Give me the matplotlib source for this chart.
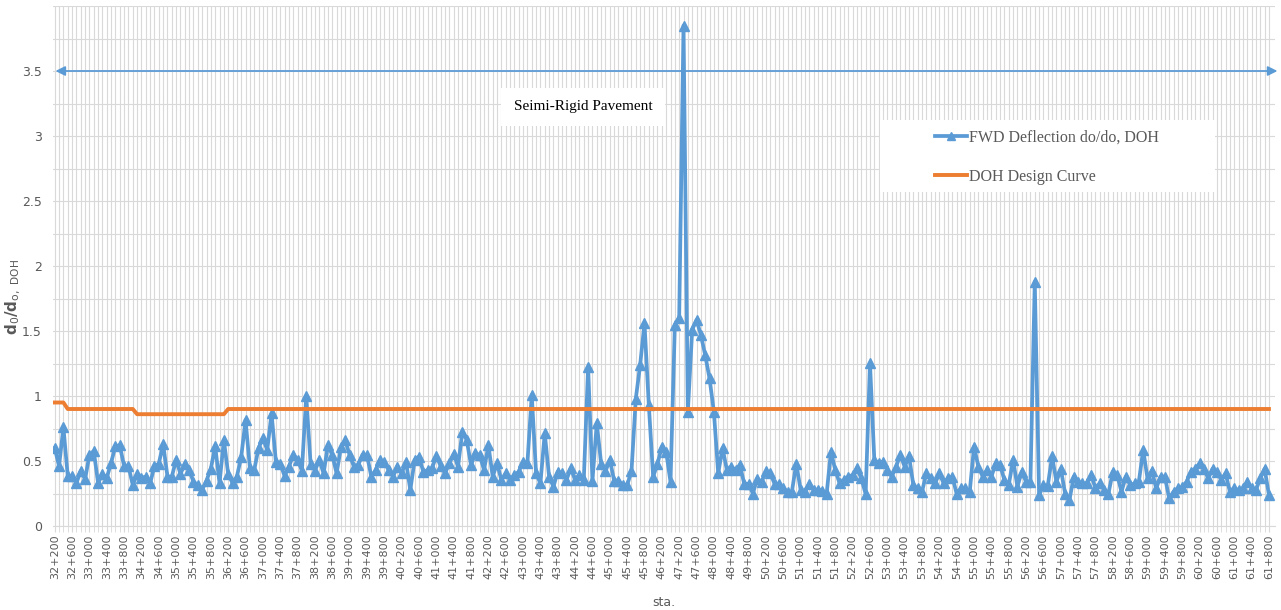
import numpy as np
import matplotlib
matplotlib.use('Agg')
import matplotlib.pyplot as plt
from matplotlib.patches import Rectangle

# FWD deflection ratio, one value per station category
fwd = [
    0.60, 0.46, 0.76, 0.385, 0.385, 0.33, 0.425, 0.36, 0.546, 0.577,
    0.33, 0.40, 0.37, 0.487, 0.615, 0.62, 0.46, 0.46, 0.315, 0.40,
    0.37, 0.38, 0.33, 0.46, 0.48, 0.63, 0.38, 0.38, 0.51, 0.40,
    0.48, 0.43, 0.34, 0.315, 0.28, 0.35, 0.44, 0.615, 0.33, 0.66,
    0.40, 0.33, 0.38, 0.53, 0.815, 0.45, 0.43, 0.60, 0.675, 0.585,
    0.866, 0.495, 0.48, 0.385, 0.456, 0.546, 0.51, 0.425, 1.00, 0.48,
    0.425, 0.51, 0.405, 0.623, 0.546, 0.405, 0.605, 0.66, 0.546, 0.456,
    0.47, 0.55, 0.546, 0.38, 0.43, 0.508, 0.495, 0.43, 0.38, 0.456,
    0.405, 0.495, 0.277, 0.508, 0.533, 0.418, 0.43, 0.444, 0.54, 0.46,
    0.405, 0.482, 0.554, 0.456, 0.726, 0.662, 0.469, 0.56, 0.546, 0.43,
    0.623, 0.38, 0.482, 0.354, 0.405, 0.354, 0.392, 0.418, 0.495, 0.482,
    1.008, 0.405, 0.328, 0.713, 0.38, 0.303, 0.418, 0.405, 0.354, 0.444,
    0.354, 0.392, 0.354, 1.22, 0.35, 0.79, 0.48, 0.42, 0.51, 0.35,
    0.35, 0.315, 0.315, 0.42, 0.98, 1.24, 1.56, 0.93, 0.38, 0.48,
    0.61, 0.57, 0.34, 1.546, 1.60, 3.85, 0.88, 1.51, 1.585, 1.47,
    1.315, 1.135, 0.88, 0.405, 0.60, 0.43, 0.456, 0.43, 0.47, 0.325,
    0.325, 0.25, 0.365, 0.34, 0.42, 0.405, 0.325, 0.325, 0.29, 0.265,
    0.265, 0.48, 0.28, 0.265, 0.325, 0.28, 0.28, 0.27, 0.246, 0.572,
    0.43, 0.328, 0.354, 0.38, 0.392, 0.444, 0.367, 0.246, 1.251, 0.51,
    0.482, 0.495, 0.43, 0.38, 0.456, 0.546, 0.456, 0.538, 0.315, 0.29,
    0.264, 0.405, 0.367, 0.328, 0.405, 0.328, 0.367, 0.38, 0.246, 0.29,
    0.29, 0.264, 0.61, 0.456, 0.38, 0.43, 0.38, 0.482, 0.469, 0.354,
    0.315, 0.51, 0.303, 0.418, 0.341, 0.341, 1.88, 0.236, 0.315, 0.31,
    0.535, 0.34, 0.44, 0.25, 0.20, 0.38, 0.34, 0.328, 0.328, 0.392,
    0.29, 0.328, 0.277, 0.25, 0.418, 0.392, 0.264, 0.38, 0.315, 0.328,
    0.34, 0.585, 0.366, 0.426, 0.29, 0.38, 0.38, 0.212, 0.264, 0.29,
    0.302, 0.34, 0.418, 0.44, 0.482, 0.44, 0.366, 0.44, 0.418, 0.354,
    0.405, 0.264, 0.29, 0.277, 0.29, 0.34, 0.29, 0.277, 0.366, 0.44,
    0.24,
]

# DOH design curve (step values)
design = [0.95] * 3 + [0.90] * 16 + [0.86] * 21 + [0.90] * 241

# every 4th category is labelled on the axis
station_labels = [
    '32+200', '32+600', '33+000', '33+400', '33+800', '34+200', '34+600',
    '35+000', '35+400', '35+800', '36+200', '36+600', '37+000', '37+400',
    '37+800', '38+200', '38+600', '39+000', '39+400', '39+800', '40+200',
    '40+600', '41+000', '41+400', '41+800', '42+200', '42+600', '43+000',
    '43+400', '43+800', '44+200', '44+600', '45+000', '45+400', '45+800',
    '46+200', '47+200', '47+600', '48+000', '48+400', '49+800', '50+200',
    '50+600', '51+000', '51+400', '51+800', '52+200', '52+600', '53+000',
    '53+400', '53+800', '54+200', '54+600', '55+000', '55+400', '55+800',
    '56+200', '56+600', '57+000', '57+400', '57+800', '58+200', '58+600',
    '59+000', '59+400', '59+800', '60+200', '60+600', '61+000', '61+400',
    '61+800',
]
y_ticks = [0, 0.5, 1, 1.5, 2, 2.5, 3, 3.5]
y_tick_labels = ['0', '0.5', '1', '1.5', '2', '2.5', '3', '3.5']

grey = '#595959'
grid = '#D9D9D9'
blue = '#5B9BD5'
orange = '#ED7D31'

x = np.arange(len(fwd))

fig = plt.figure(figsize=(12.81, 6.10), dpi=100)
ax = fig.add_axes([53 / 1281, 84 / 610, 1222 / 1281, 520 / 610])

ax.plot(x, fwd, color=blue, lw=2.7, marker='^', ms=7.5, zorder=3,
        label='FWD Deflection do/do, DOH')
ax.plot(x, design, color=orange, lw=2.8, zorder=4, label='DOH Design Curve')

ax.set_xlim(-0.4, len(fwd) - 1 + 1.4)
ax.set_ylim(0, 4)

ax.set_xticks(x[::4])
ax.set_xticklabels(station_labels)
ax.set_xticks(x, minor=True)
ax.set_yticks(y_ticks)
ax.set_yticklabels(y_tick_labels)
ax.set_yticks(np.arange(0, 4.01, 0.25), minor=True)

ax.grid(which='both', color=grid, lw=0.8)
ax.set_axisbelow(True)

for s in ax.spines.values():
    s.set_visible(False)
ax.spines['bottom'].set_visible(True)
ax.spines['bottom'].set_color(grid)

ax.tick_params(axis='x', which='both', length=4, color=grid)
ax.tick_params(axis='x', which='major', labelsize=8, labelcolor=grey,
               labelrotation=90, pad=2)
ax.tick_params(axis='y', which='both', length=0, labelsize=9,
               labelcolor=grey, pad=8)

ax.set_xlabel('sta.', fontsize=9, color=grey, labelpad=12)

# y label placed by hand so it stays inside the figure
fig.text(13 / 1281, 1 - 297 / 610, r'd$_0$/d$_{\mathrm{o,\ DOH}}$',
         rotation=90, ha='center', va='center', fontsize=11,
         fontweight='bold', color=grey)

# double-headed arrow across the chart
ax.annotate('', xy=(1.002, 3.5), xytext=(0.002, 3.5),
            xycoords=('axes fraction', 'data'),
            arrowprops=dict(arrowstyle='<|-|>', color=blue, lw=1.3,
                            mutation_scale=14, shrinkA=0, shrinkB=0),
            annotation_clip=False, zorder=5)

ax.text(0.4337, 0.806, 'Seimi-Rigid Pavement', transform=ax.transAxes,
        ha='center', va='center', fontsize=11, family='Liberation Serif',
        color='black', zorder=6,
        bbox=dict(boxstyle='square,pad=0.8', fc='white', ec='none'))

# legend sits on a white panel
ax.add_patch(Rectangle((0.677, 0.642), 0.274, 0.139, transform=ax.transAxes,
                       fc='white', ec='none', zorder=6))
leg = ax.legend(loc='upper left', bbox_to_anchor=(0.722, 0.762),
                frameon=False, prop={'family': 'Liberation Serif', 'size': 11.5},
                labelspacing=1.45, handlelength=2.0, handletextpad=0.1,
                borderaxespad=0, borderpad=0, markerscale=0.7)
leg.set_zorder(7)
for t in leg.get_texts():
    t.set_color(grey)

fig.savefig('out.png', dpi=100)
